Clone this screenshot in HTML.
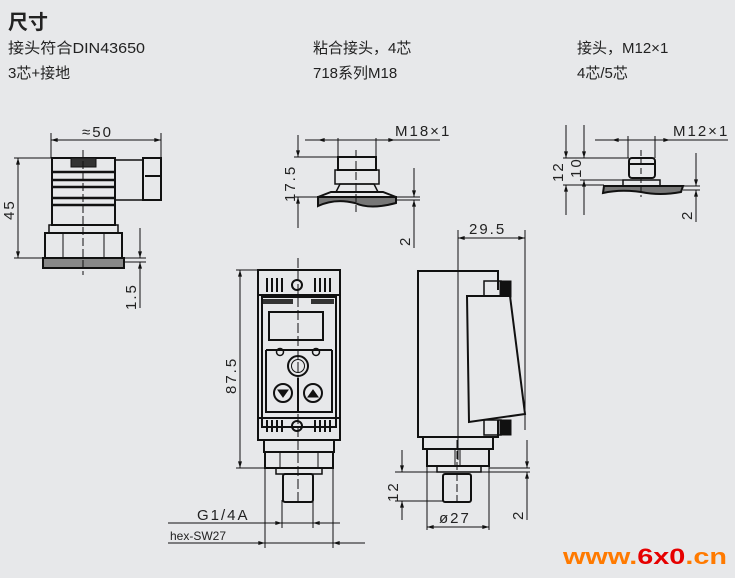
<!DOCTYPE html>
<html><head><meta charset="utf-8"><style>
html,body{margin:0;padding:0;background:#e7e8ea;}
svg{display:block}
.t{font-family:"Liberation Sans","Noto Sans CJK SC",sans-serif;fill:#222;}
.d{font-family:"Liberation Sans",sans-serif;fill:#222;font-size:15px;letter-spacing:2px;}
</style></head><body>
<svg width="735" height="578" viewBox="0 0 735 578" xmlns="http://www.w3.org/2000/svg">
<defs>
<marker id="a" viewBox="0 0 10 6" refX="10" refY="3" markerWidth="10" markerHeight="4" orient="auto-start-reverse"><path d="M0,0L10,3L0,6z" fill="#111"/></marker>
</defs>
<rect width="735" height="578" fill="#e7e8ea"/>
<text class="t" x="8" y="29" font-size="20" font-weight="bold">尺寸</text>
<text class="t" x="8" y="53" font-size="15" textLength="137" lengthAdjust="spacingAndGlyphs">接头符合DIN43650</text>
<text class="t" x="8" y="78" font-size="15">3芯+接地</text>
<text class="t" x="313" y="53" font-size="15">粘合接头，4芯</text>
<text class="t" x="313" y="78" font-size="15">718系列M18</text>
<text class="t" x="577" y="53" font-size="15">接头，M12×1</text>
<text class="t" x="577" y="78" font-size="15">4芯/5芯</text>

<g stroke="#111" fill="none" stroke-width="1">
<!-- Left DIN connector -->
<line x1="51" y1="133" x2="51" y2="158"/><line x1="161" y1="133" x2="161" y2="158"/>
<line x1="51" y1="140" x2="161" y2="140" marker-start="url(#a)" marker-end="url(#a)"/>
<line x1="14" y1="158" x2="52" y2="158"/><line x1="14" y1="258" x2="45" y2="258"/>
<line x1="18" y1="158" x2="18" y2="258" marker-start="url(#a)" marker-end="url(#a)"/>
<rect x="52" y="158" width="63" height="67" stroke-width="2"/>
<rect x="71" y="158" width="25" height="9" fill="#333"/>
<g stroke-width="2.5"><line x1="52" y1="172" x2="115" y2="172"/><line x1="52" y1="180" x2="115" y2="180"/><line x1="52" y1="187" x2="115" y2="187"/><line x1="52" y1="198" x2="115" y2="198"/><line x1="52" y1="205" x2="115" y2="205"/></g>
<path d="M115,160 L143,160 L143,200 L115,200" stroke-width="1.5"/>
<rect x="143" y="158" width="18" height="42" stroke-width="2"/>
<line x1="145" y1="176" x2="160" y2="176" stroke-width="2"/>
<rect x="49" y="225" width="69" height="8" stroke-width="1.5"/>
<rect x="45" y="233" width="77" height="25" stroke-width="2"/>
<line x1="63" y1="233" x2="63" y2="258"/><line x1="104" y1="233" x2="104" y2="258"/>
<rect x="43" y="258" width="81" height="10" stroke-width="2" fill="#888"/>
<line x1="83" y1="150" x2="83" y2="275" stroke-dasharray="8,3"/>
<line x1="124" y1="258" x2="146" y2="258"/><line x1="124" y1="262" x2="146" y2="262"/>
<line x1="140" y1="228" x2="140" y2="258" marker-end="url(#a)"/>
<line x1="140" y1="262" x2="140" y2="308" marker-start="url(#a)"/>

<!-- Middle M18 -->
<line x1="305" y1="140" x2="440" y2="140"/>
<line x1="318" y1="140" x2="338" y2="140" marker-start="url(#a)"/>
<line x1="376" y1="140" x2="395" y2="140" marker-end="url(#a)"/>
<line x1="338" y1="138" x2="338" y2="158"/><line x1="376" y1="138" x2="376" y2="158"/>
<rect x="338" y="157" width="38" height="13" stroke-width="2"/>
<rect x="335" y="170" width="44" height="14" stroke-width="1.5"/>
<path d="M340,184 L374,184 L378,192 L336,192 Z" stroke-width="1.5"/>
<path d="M331,192 L383,192 L396,197 L318,197 Z" stroke-width="2"/>
<path d="M318,197 L396,197 L396,203 Q370,210 355,203 Q335,198 318,206 Z" stroke-width="2" fill="#777"/>
<line x1="356" y1="150" x2="356" y2="212" stroke-dasharray="8,3"/>
<line x1="294" y1="157" x2="338" y2="157"/><line x1="294" y1="197" x2="318" y2="197"/>
<line x1="298" y1="135" x2="298" y2="157" marker-end="url(#a)"/>
<line x1="298" y1="197" x2="298" y2="228" marker-start="url(#a)"/>
<line x1="396" y1="197" x2="420" y2="197"/><line x1="396" y1="200" x2="420" y2="200"/>
<line x1="414" y1="168" x2="414" y2="197" marker-end="url(#a)"/>
<line x1="414" y1="200" x2="414" y2="248" marker-start="url(#a)"/>

<!-- Right M12 -->
<line x1="595" y1="140" x2="728" y2="140"/>
<line x1="612" y1="140" x2="628" y2="140" marker-start="url(#a)"/>
<line x1="655" y1="140" x2="670" y2="140" marker-end="url(#a)"/>
<line x1="628" y1="136" x2="628" y2="158"/><line x1="655" y1="136" x2="655" y2="158"/>
<rect x="629" y="158" width="26" height="20" rx="3" stroke-width="2"/>
<line x1="629" y1="164" x2="655" y2="164" stroke-width="2"/>
<rect x="623" y="180" width="37" height="6" stroke-width="1.5"/>
<path d="M604,186 L683,186 L681,192 Q660,196 641,192 Q620,189 603,193 Z" stroke-width="2" fill="#777"/>
<line x1="641" y1="150" x2="641" y2="197" stroke-dasharray="6,3"/>
<line x1="563" y1="158" x2="629" y2="158"/><line x1="563" y1="185" x2="604" y2="185"/><line x1="580" y1="180" x2="623" y2="180"/>
<line x1="566" y1="125" x2="566" y2="158" marker-end="url(#a)"/><line x1="566" y1="185" x2="566" y2="215" marker-start="url(#a)"/>
<line x1="584" y1="125" x2="584" y2="158" marker-end="url(#a)"/><line x1="584" y1="180" x2="584" y2="215" marker-start="url(#a)"/>
<line x1="683" y1="186" x2="700" y2="186"/><line x1="683" y1="190" x2="700" y2="190"/>
<line x1="696" y1="153" x2="696" y2="186" marker-end="url(#a)"/><line x1="696" y1="190" x2="696" y2="222" marker-start="url(#a)"/>

<!-- Front view -->
<line x1="236" y1="270" x2="258" y2="270"/><line x1="236" y1="468" x2="265" y2="468"/>
<line x1="240" y1="270" x2="240" y2="468" marker-start="url(#a)" marker-end="url(#a)"/>
<rect x="258" y="270" width="82" height="170" stroke-width="2"/>
<g stroke-width="2"><line x1="267" y1="278" x2="267" y2="292"/><line x1="272" y1="278" x2="272" y2="292"/><line x1="277" y1="278" x2="277" y2="292"/><line x1="282" y1="278" x2="282" y2="292"/>
<line x1="315" y1="278" x2="315" y2="292"/><line x1="320" y1="278" x2="320" y2="292"/><line x1="325" y1="278" x2="325" y2="292"/><line x1="330" y1="278" x2="330" y2="292"/></g>
<circle cx="297" cy="285" r="5" stroke-width="2"/>
<line x1="258" y1="295" x2="340" y2="295" stroke-width="2"/>
<rect x="262" y="297" width="74" height="130" stroke-width="2"/>
<rect x="263" y="299" width="30" height="5" fill="#333" stroke="none"/><rect x="311" y="299" width="23" height="5" fill="#333" stroke="none"/>
<rect x="269" y="312" width="54" height="28" stroke-width="2"/>
<path d="M266,350 L332,350 M266,350 L266,412 L332,412 L332,350" stroke-width="2"/>
<circle cx="280" cy="352" r="3.5" stroke-width="1.5"/><circle cx="316" cy="352" r="3.5" stroke-width="1.5"/>
<circle cx="298" cy="366" r="10" stroke-width="2"/><circle cx="298" cy="366" r="6.5" stroke-width="1"/>
<circle cx="283" cy="393" r="9" stroke-width="2"/><path d="M278,390 L288,390 L283,397 Z" fill="#111"/>
<circle cx="313" cy="393" r="9" stroke-width="2"/><path d="M308,397 L318,397 L313,390 Z" fill="#111"/>
<line x1="298" y1="378" x2="298" y2="412" stroke-width="2"/>
<line x1="258" y1="418" x2="340" y2="418" stroke-width="2"/>
<g stroke-width="2"><line x1="267" y1="420" x2="267" y2="432"/><line x1="272" y1="420" x2="272" y2="432"/><line x1="277" y1="420" x2="277" y2="432"/><line x1="282" y1="420" x2="282" y2="432"/>
<line x1="315" y1="420" x2="315" y2="432"/><line x1="320" y1="420" x2="320" y2="432"/><line x1="325" y1="420" x2="325" y2="432"/><line x1="330" y1="420" x2="330" y2="432"/></g>
<circle cx="297" cy="426" r="5" stroke-width="2"/>
<rect x="264" y="440" width="70" height="12" stroke-width="2"/>
<rect x="265" y="452" width="68" height="16" stroke-width="2"/>
<line x1="280" y1="452" x2="280" y2="468"/><line x1="318" y1="452" x2="318" y2="468"/>
<rect x="276" y="468" width="46" height="6" stroke-width="1.5"/>
<rect x="283" y="474" width="30" height="28" rx="2" stroke-width="2"/>
<line x1="298" y1="258" x2="298" y2="505" stroke-dasharray="10,3"/>
<line x1="265" y1="468" x2="265" y2="548"/><line x1="333" y1="468" x2="333" y2="548"/>
<line x1="282" y1="500" x2="282" y2="528"/><line x1="313" y1="500" x2="313" y2="528"/>
<line x1="168" y1="523" x2="340" y2="523"/>
<line x1="262" y1="523" x2="282" y2="523" marker-end="url(#a)"/><line x1="313" y1="523" x2="333" y2="523" marker-start="url(#a)"/>
<line x1="168" y1="543" x2="365" y2="543"/>
<line x1="245" y1="543" x2="265" y2="543" marker-end="url(#a)"/><line x1="333" y1="543" x2="352" y2="543" marker-start="url(#a)"/>

<!-- Side view -->
<line x1="458" y1="230" x2="458" y2="460"/><line x1="525" y1="230" x2="525" y2="430"/>
<line x1="458" y1="238" x2="525" y2="238" marker-start="url(#a)" marker-end="url(#a)"/>
<path d="M498,290 L498,271 L418,271 L418,437 L498,437 L498,420" stroke-width="2"/>
<rect x="484" y="281" width="17" height="16" stroke-width="1.5"/><rect x="500" y="281" width="11" height="16" fill="#111"/>
<path d="M467,296 L510,296 L525,414 L469,422 Z" stroke-width="2" fill="#e7e8ea"/>
<rect x="484" y="420" width="17" height="15" stroke-width="1.5"/><rect x="500" y="420" width="11" height="15" fill="#111"/>
<rect x="423" y="437" width="70" height="12" stroke-width="2"/>
<rect x="427" y="449" width="62" height="17" stroke-width="2"/>
<line x1="455" y1="449" x2="455" y2="466"/><line x1="460" y1="449" x2="460" y2="466"/>
<rect x="437" y="466" width="44" height="6" stroke-width="1.5"/>
<rect x="443" y="474" width="28" height="28" rx="2" stroke-width="2"/>
<line x1="457" y1="440" x2="457" y2="505" stroke-dasharray="8,3"/>
<line x1="395" y1="472" x2="530" y2="472"/><line x1="395" y1="501" x2="443" y2="501"/><line x1="489" y1="468" x2="530" y2="468"/>
<line x1="402" y1="450" x2="402" y2="472" marker-end="url(#a)"/>
<line x1="402" y1="501" x2="402" y2="520" marker-start="url(#a)"/>
<line x1="427" y1="466" x2="427" y2="530"/><line x1="489" y1="466" x2="489" y2="530"/>
<line x1="427" y1="527" x2="489" y2="527" marker-start="url(#a)" marker-end="url(#a)"/>
<line x1="527" y1="440" x2="527" y2="468" marker-end="url(#a)"/>
<line x1="527" y1="472" x2="527" y2="520" marker-start="url(#a)"/>
</g>

<text class="d" x="82" y="137">≈50</text>
<text class="d" transform="translate(14,220) rotate(-90)">45</text>
<text class="d" transform="translate(136,310) rotate(-90)">1.5</text>
<text class="d" x="395" y="136">M18×1</text>
<text class="d" transform="translate(295,202) rotate(-90)">17.5</text>
<text class="d" transform="translate(410,246) rotate(-90)">2</text>
<text class="d" x="673" y="136">M12×1</text>
<text class="d" transform="translate(563,182) rotate(-90)">12</text>
<text class="d" transform="translate(581,178) rotate(-90)">10</text>
<text class="d" transform="translate(692,220) rotate(-90)">2</text>
<text class="d" transform="translate(236,394) rotate(-90)">87.5</text>
<text class="d" x="197" y="520">G1/4A</text>
<text class="t" x="170" y="540" font-size="12">hex-SW27</text>
<text class="d" x="469" y="234">29.5</text>
<text class="d" transform="translate(398,502) rotate(-90)">12</text>
<text class="d" x="439" y="523">ø27</text>
<text class="d" transform="translate(523,520) rotate(-90)">2</text>
<text x="563" y="564" font-family="Liberation Sans,sans-serif" font-weight="bold" font-size="22" fill="#ff7a00" textLength="164" lengthAdjust="spacingAndGlyphs">www.<tspan fill="#e60000">6x0</tspan>.cn</text>
</svg>
</body></html>
